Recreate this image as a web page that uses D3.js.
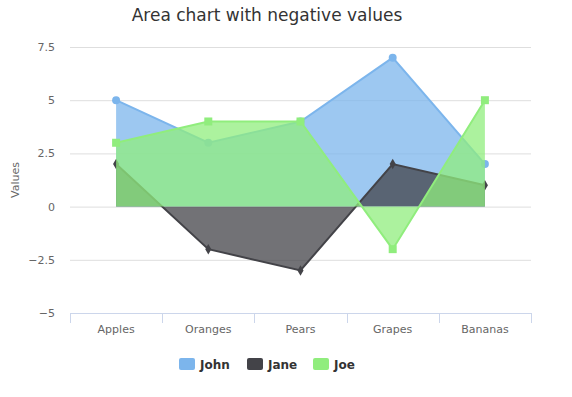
<!DOCTYPE html>
<html>
    <head>
        <meta charset="utf-8">
        <script src="https://d3js.org/d3.v7.min.js"></script>
        <style>
            body { margin: 0; background: #fff; }
            svg, svg text { font-family: "DejaVu Sans", Verdana, sans-serif; }
        </style>
    </head>
    <body>
    <script>
        var categories= ['Apples', 'Oranges', 'Pears', 'Grapes', 'Bananas']
        var john= [5, 3, 4, 7, 2]
        var jane= [2, -2, -3, 2, 1]
        var joe= [3, 4, 4, -2, 5]
        var yTicks= [-5, -2.5, 0, 2.5, 5, 7.5]

        var series= [
            { name: 'John', data: john, color: '#7cb5ec', marker: 'circle' },
            { name: 'Jane', data: jane, color: '#434348', marker: 'diamond' },
            { name: 'Joe', data: joe, color: '#90ed7d', marker: 'square' }
        ]

        var w= 572, h= 397
        var plotLeft= 70, plotRight= 531, plotTop= 47, plotBottom= 313

        var svg= d3.select('body').append('svg')
            .attr('width', w).attr('height', h)

        svg.append('text')
            .attr('x', 267).attr('y', 21)
            .attr('text-anchor', 'middle')
            .style('font-size', '17px')
            .style('fill', '#333333')
            .text('Area chart with negative values')

        var xScale= d3.scaleBand().domain(categories).range([plotLeft, plotRight])
        var yScale= d3.scaleLinear().domain([-5, 7.5]).range([plotBottom, plotTop])
        var xc= function(i){ return xScale(categories[i]) + xScale.bandwidth()/2 }

        // grid lines + y labels
        var yAxis= d3.axisLeft(yScale).tickValues(yTicks).tickSize(-(plotRight-plotLeft)).tickPadding(15)
            .tickFormat(d3.format(''))
        var gy= svg.append('g').attr('transform', 'translate('+plotLeft+',0)').call(yAxis)
        gy.select('.domain').remove()
        gy.selectAll('line').attr('stroke', '#dedede')
        gy.selectAll('text').style('font-size', '11px').style('fill', '#666666').attr('dy', '0.32em')

        // x axis
        var xAxis= d3.axisBottom(xScale).tickSize(0).tickPadding(12)
        var gx= svg.append('g').attr('transform', 'translate(0,'+plotBottom+')').call(xAxis)
        gx.select('.domain').attr('stroke', '#ccd6eb')
        gx.selectAll('text').style('font-size', '11px').style('fill', '#666666')
        gx.selectAll('.cat-tick')
            .data(categories.concat([null]))
            .enter().append('line')
            .attr('x1', function(d, i){ return Math.round(plotLeft + i*xScale.bandwidth()) + 0.5 })
            .attr('x2', function(d, i){ return Math.round(plotLeft + i*xScale.bandwidth()) + 0.5 })
            .attr('y1', 0).attr('y2', 10)
            .attr('stroke', '#ccd6eb')

        svg.append('text')
            .attr('transform', 'translate(19,'+((plotTop+plotBottom)/2)+') rotate(-90)')
            .attr('text-anchor', 'middle')
            .style('font-size', '11px')
            .style('fill', '#666666')
            .text('Values')

        var area= d3.area()
            .x(function(d, i){ return xc(i) })
            .y0(yScale(0))
            .y1(function(d){ return yScale(d) })
        var line= d3.line()
            .x(function(d, i){ return xc(i) })
            .y(function(d){ return yScale(d) })

        var symbols= { circle: d3.symbolCircle, diamond: d3.symbolDiamond, square: d3.symbolSquare }
        var symSize= { circle: 50, diamond: 32, square: 64 }

        series.forEach(function(s){
            var g= svg.append('g')
            g.append('path')
                .attr('d', area(s.data))
                .attr('fill', s.color)
                .attr('fill-opacity', 0.75)
            g.append('path')
                .attr('d', line(s.data))
                .attr('fill', 'none')
                .attr('stroke', s.color)
                .attr('stroke-width', 2)
            g.selectAll('.pt')
                .data(s.data)
                .enter().append('path')
                .attr('transform', function(d, i){ return 'translate('+xc(i)+','+yScale(d)+')' })
                .attr('d', d3.symbol().type(symbols[s.marker]).size(symSize[s.marker]))
                .attr('fill', s.color)
        })

        // legend
        var legendX= [179, 247, 313]
        var lg= svg.append('g')
        series.forEach(function(s, i){
            lg.append('rect')
                .attr('x', legendX[i]).attr('y', 358)
                .attr('width', 16).attr('height', 12)
                .attr('rx', 2)
                .attr('fill', s.color)
            lg.append('text')
                .attr('x', legendX[i] + 21).attr('y', 369)
                .style('font-size', '12px')
                .style('font-weight', 'bold')
                .style('fill', '#333333')
                .text(s.name)
        })
    </script>
    </body>
</html>
